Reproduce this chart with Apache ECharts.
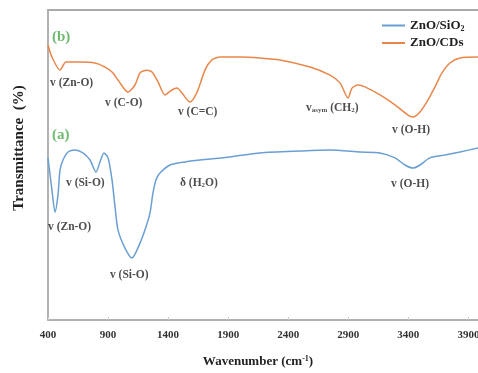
<!DOCTYPE html>
<html>
<head>
<meta charset="utf-8">
<script src="https://cdn.jsdelivr.net/npm/echarts@6/dist/echarts.min.js"></script>
<style>
  html, body { margin: 0; padding: 0; background: #fff; }
  #chart { width: 478px; height: 373px; }
</style>
</head>
<body>
<div id="chart"></div>
<script>
// wavenumber (cm-1) and transmittance (a.u.)
const cdsWave = [400, 433, 500, 550, 666, 791, 875, 933, 983, 1066, 1124, 1166, 1224, 1266, 1316, 1374, 1432, 1474, 1516, 1582, 1641, 1707, 1765, 1832, 1999, 2165, 2332, 2581, 2748, 2831, 2898, 2931, 2981, 3039, 3164, 3289, 3397, 3439, 3497, 3564, 3622, 3680, 3747, 3830, 3980]
const cdsT = [88.7, 84.8, 80.6, 83.2, 83.2, 82.9, 81.6, 80.0, 77.4, 73.5, 75.8, 79.7, 80.6, 80.0, 76.8, 72.6, 74.2, 74.8, 73.2, 70.3, 73.5, 80.6, 83.9, 84.8, 84.8, 84.5, 83.9, 81.6, 79.0, 76.5, 71.6, 74.8, 75.8, 75.2, 72.6, 69.4, 66.1, 65.5, 67.1, 71.0, 75.2, 79.7, 82.9, 84.5, 84.8]

const sioWave = [400, 433, 458, 483, 500, 525, 567, 625, 691, 750, 800, 833, 866, 900, 933, 958, 983, 1041, 1099, 1166, 1207, 1249, 1274, 1299, 1332, 1416, 1541, 1666, 1915, 2165, 2498, 2748, 2998, 3164, 3289, 3372, 3439, 3497, 3580, 3705, 3830, 3980]
const sioT = [52.3, 41.9, 34.8, 40.3, 48.4, 51.6, 54.2, 54.8, 53.9, 51.6, 47.7, 51.0, 53.9, 52.3, 45.2, 36.5, 29.0, 23.2, 20.0, 24.8, 29.0, 34.5, 41.0, 45.2, 47.4, 50.0, 51.0, 51.6, 52.6, 53.9, 54.5, 54.8, 54.2, 53.9, 52.3, 50.0, 49.0, 50.0, 52.3, 53.2, 54.2, 55.5]

// band labels: [wavenumber, transmittance, text]
const bandLabels = [
  [417, 76.5, 'v (Zn-O)'],
  [875, 70.0, 'v (C-O)'],
  [1482, 67.1, 'v (C=C)'],
  [2548, 68.5, 'v{s|asym} (CH{s|2})'],
  [3264, 61.3, 'v (O-H)'],
  [550, 44.2, 'v (Si-O)'],
  [1499, 44.2, 'δ (H{s|2}O)'],
  [3256, 43.9, 'v (O-H)'],
  [400, 30.0, 'v (Zn-O)'],
  [916, 14.6, 'v (Si-O)'],
]
const panelLabels = [
  [433, 91.3, '(b)'],
  [433, 59.7, '(a)'],
]

const font = 'Liberation Serif'
const zip = (xs, ys) => xs.map((x, i) => [x, ys[i]])

const chart = echarts.init(document.getElementById('chart'))
chart.setOption({
  animation: false,
  grid: { left: 48, right: 0, top: 10, bottom: 53, outerBoundsMode: 'none' },
  legend: {
    orient: 'vertical',
    left: 377,
    top: 14,
    itemWidth: 23,
    itemHeight: 2,
    itemGap: 4,
    icon: 'rect',
    data: ['ZnO/SiO2', 'ZnO/CDs'],
    formatter: (n) => n.replace(/(\d)/g, '{s|$1}'),
    textStyle: {
      fontFamily: font, fontWeight: 'bold', fontSize: 13, color: '#222',
      rich: { s: { fontFamily: font, fontWeight: 'bold', fontSize: 8, verticalAlign: 'bottom', padding: [6, 0, 0, 0] } },
    },
  },
  xAxis: [
    {
      type: 'value',
      min: 400,
      max: 3980,
      interval: 500,
      axisLine: { lineStyle: { color: '#999', width: 1.5 } },
      axisTick: { inside: true, length: 3, lineStyle: { color: '#ccc' } },
      splitLine: { show: false },
      axisLabel: {
        margin: 10,
        fontFamily: font, fontWeight: 'bold', fontSize: 11, color: '#333',
        formatter: (v) => ((v - 400) % 500 === 0 ? String(v) : ''),
      },
    },
    {
      type: 'value',
      position: 'top',
      min: 400,
      max: 3980,
      axisLine: { show: true, onZero: false, lineStyle: { color: '#aaa', width: 2 } },
      axisTick: { show: false },
      axisLabel: { show: false },
      splitLine: { show: false },
    },
  ],
  yAxis: {
    type: 'value',
    min: 0,
    max: 100,
    axisLine: { show: true, lineStyle: { color: '#999', width: 1.5 } },
    axisTick: { show: false },
    axisLabel: { show: false },
    splitLine: { show: false },
  },
  graphic: [
    {
      type: 'text',
      x: 19, y: 148, rotation: Math.PI / 2,
      style: {
        text: 'Transmittance  (%)', fontFamily: font, fontWeight: 'bold', fontSize: 15,
        fill: '#222', align: 'center', verticalAlign: 'middle',
      },
    },
    {
      type: 'text',
      x: 258, y: 362,
      style: {
        text: 'Wavenumber (cm{u|-1})', fontFamily: font, fontWeight: 'bold', fontSize: 13,
        fill: '#222', align: 'center', verticalAlign: 'middle',
        rich: { u: { fontFamily: font, fontWeight: 'bold', fontSize: 8, verticalAlign: 'top', padding: [0, 0, 6, 0] } },
      },
    },
  ],
  series: [
    {
      name: 'ZnO/SiO2',
      type: 'line',
      data: zip(sioWave, sioT),
      showSymbol: false,
      smooth: 0.25,
      color: '#6a9fd4',
      lineStyle: { width: 1.5 },
    },
    {
      name: 'ZnO/CDs',
      type: 'line',
      data: zip(cdsWave, cdsT),
      showSymbol: false,
      smooth: 0.25,
      color: '#e9874a',
      lineStyle: { width: 1.5 },
    },
    {
      name: 'bands',
      type: 'scatter',
      symbolSize: 0,
      silent: true,
      data: bandLabels.map((d) => ({ value: [d[0], d[1]], name: d[2] })),
      label: {
        show: true, position: 'right', distance: 0,
        formatter: (p) => p.name,
        fontFamily: font, fontWeight: 'bold', fontSize: 11.5, color: '#222',
        rich: { s: { fontFamily: font, fontWeight: 'bold', fontSize: 7, verticalAlign: 'bottom', padding: [5, 0, 0, 0] } },
      },
    },
    {
      name: 'panels',
      type: 'scatter',
      symbolSize: 0,
      silent: true,
      data: panelLabels.map((d) => ({ value: [d[0], d[1]], name: d[2] })),
      label: {
        show: true, position: 'right', distance: 0,
        formatter: (p) => p.name,
        fontFamily: font, fontWeight: 'bold', fontSize: 15, color: '#49a84a',
      },
    },
  ],
})
</script>
</body>
</html>
